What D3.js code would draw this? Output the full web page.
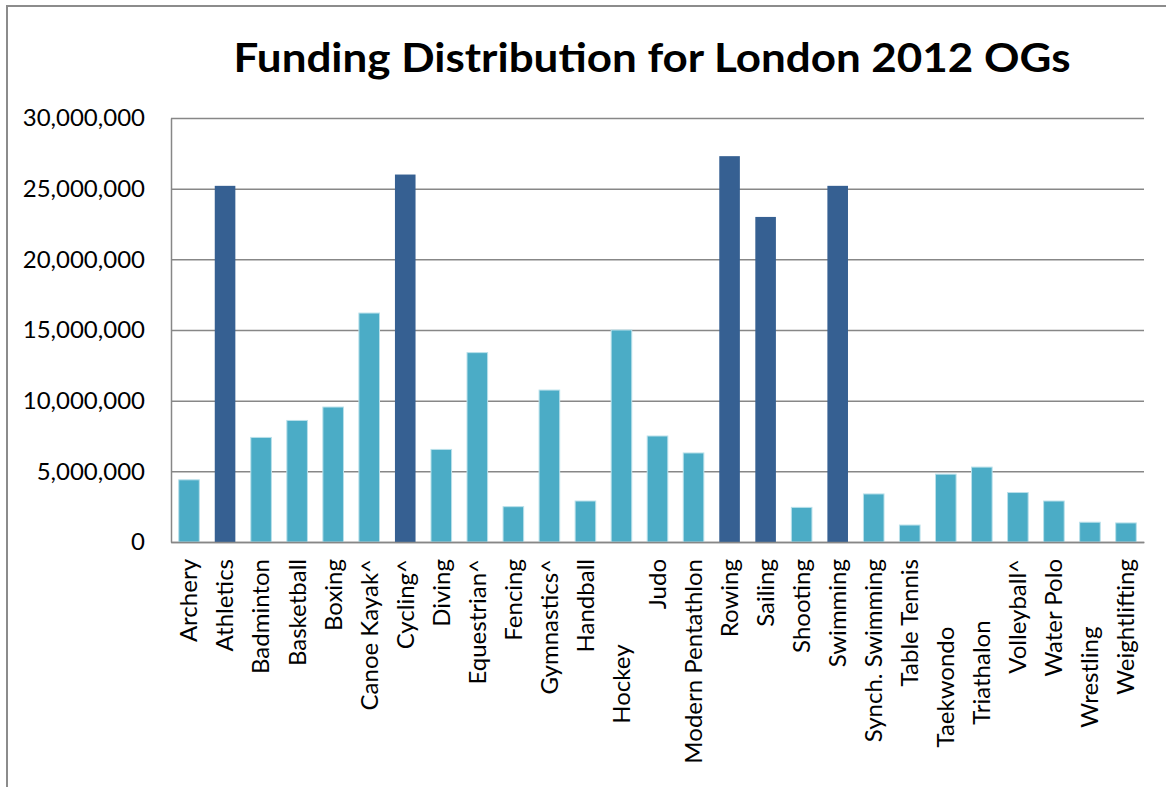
<!DOCTYPE html>
<html>
<head>
<meta charset="utf-8">
<script src="https://cdn.jsdelivr.net/npm/d3@7"></script>
<style>
  body { margin: 0; background: #fff; }
  svg text { font-family: Lato, "Open Sans", sans-serif; }
  .xlab text { white-space: pre; }
</style>
</head>
<body>
<script>
// categories (trailing spaces are part of the original labels)
const sports = ["Archery", "Athletics", "Badminton", "Basketball", "Boxing", "Canoe Kayak^",
  "Cycling^", "Diving", "Equestrian^", "Fencing", "Gymnastics^", "Handball",
  "Hockey              ", "Judo", "Modern Pentathlon", "Rowing", "Sailing", "Shooting",
  "Swimming", "Synch. Swimming", "Table Tennis", "Taekwondo           ",
  "Triathalon          ", "Volleyball^", "Water Polo", "Wrestling           ", "Weightlifting"]

const funding = [4400000, 25200000, 7400000, 8600000, 9550000, 16200000,
  26000000, 6550000, 13400000, 2500000, 10750000, 2900000,
  15000000, 7500000, 6300000, 27300000, 23000000, 2450000,
  25200000, 3400000, 1200000, 4800000,
  5300000, 3500000, 2900000, 1400000, 1350000]

// the big-money sports drawn in the darker blue
const priority = ["Athletics", "Cycling^", "Rowing", "Sailing", "Swimming"]

const yTicks = [0, 5000000, 10000000, 15000000, 20000000, 25000000, 30000000]

const width = 1166
const height = 787
const plotL = 171, plotR = 1144, plotT = 118, plotB = 542

const svg = d3.select("body").append("svg")
    .attr("width", width)
    .attr("height", height)

// outer chart frame
svg.append("rect")
    .attr("x", 7).attr("y", 6)
    .attr("width", 1170).attr("height", 800)
    .attr("fill", "none")
    .attr("stroke", "#8c8c8c")
    .attr("stroke-width", 2)

const title = svg.append("text")
    .attr("x", 652).attr("y", 72)
    .attr("text-anchor", "middle")
    .attr("font-size", 40)
    .attr("font-weight", "bold")
    .attr("fill", "#000")
    .text("Funding Distribution for London 2012 OGs")

const x = d3.scaleBand()
    .domain(sports)
    .range([plotL, plotR])
    .paddingInner(0.75 / 1.75)
    .paddingOuter(0.75 / 3.5)

const y = d3.scaleLinear()
    .domain([0, 30000000])
    .range([plotB, plotT])

// y axis with gridlines
const yAxis = svg.append("g")
    .attr("transform", `translate(${plotL},0)`)
    .call(d3.axisLeft(y)
      .tickValues(yTicks)
      .tickFormat(d3.format(","))
      .tickSizeInner(-(plotR - plotL))
      .tickSizeOuter(0)
      .tickPadding(26))

yAxis.selectAll("line").attr("stroke", "#878787").attr("stroke-width", 1.5)
yAxis.select(".domain").attr("stroke", "#878787").attr("stroke-width", 1.5)
yAxis.selectAll("text")
    .attr("font-size", 24)
    .attr("fill", "#000")
    .style("font-family", "Lato, sans-serif")

// bars
svg.append("g")
  .selectAll("rect")
  .data(sports)
  .enter()
  .append("rect")
    .attr("x", d => x(d))
    .attr("y", (d, i) => y(funding[i]))
    .attr("width", x.bandwidth())
    .attr("height", (d, i) => plotB - y(funding[i]))
    .attr("fill", d => priority.includes(d) ? "#366092" : "#4bacc6")
    .attr("stroke", d => priority.includes(d) ? "none" : "#b9e0ea")
    .attr("stroke-width", 1)

// x axis
const xAxis = svg.append("g")
    .attr("class", "xlab")
    .attr("transform", `translate(0,${plotB})`)
    .call(d3.axisBottom(x).tickSize(0))

xAxis.select(".domain").attr("stroke", "#878787").attr("stroke-width", 1.5)
xAxis.selectAll("text")
    .attr("transform", "rotate(-90)")
    .attr("x", -17)
    .attr("y", 0)
    .attr("dy", "0.35em")
    .attr("text-anchor", "end")
    .attr("font-size", 24)
    .attr("fill", "#000")
    .style("font-family", "Lato, sans-serif")

// squeeze the title to the width it has in the original
const tw = title.node().getComputedTextLength()
if (Math.abs(tw - 837) > 4) title.attr("textLength", 837).attr("lengthAdjust", "spacingAndGlyphs")
</script>
</body>
</html>
